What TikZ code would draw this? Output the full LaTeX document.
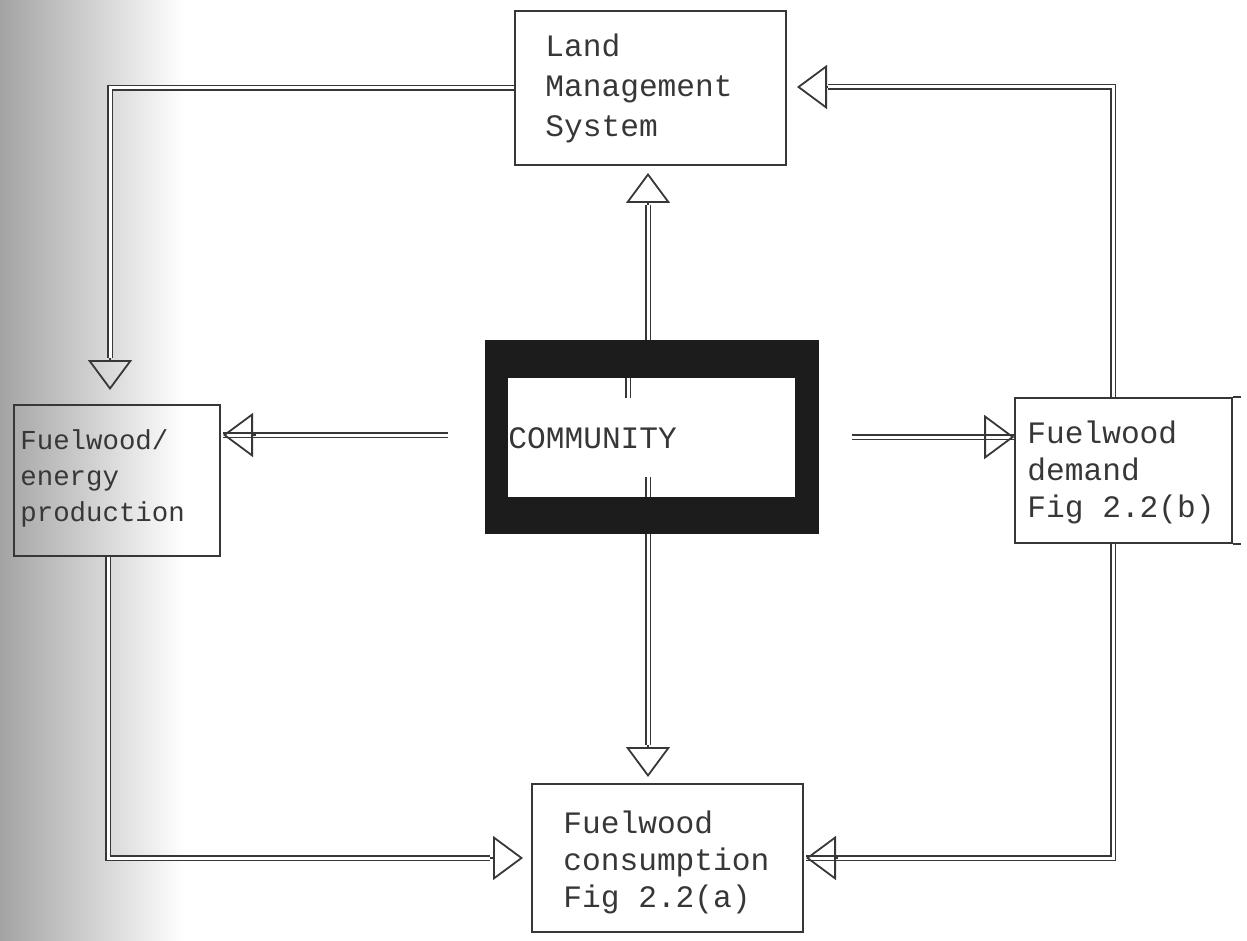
\documentclass[tikz,border=0pt]{standalone}
\usepackage{fontspec}
\newfontfamily\cour{Liberation Mono}
\usetikzlibrary{arrows.meta}
\definecolor{ink}{RGB}{55,55,55}
\definecolor{band}{RGB}{28,28,28}
\begin{document}
\begin{tikzpicture}[x=0.5pt,y=-0.5pt,
  box/.style={draw=ink,line width=0.8pt,inner sep=0pt},
  txt/.style={inner sep=0pt,anchor=west,align=left,text=ink},
  big/.style={font=\cour\fontsize{15.6}{19.5}\selectfont},
  conn/.style={draw=ink,line width=0.8pt,double=white,double distance=1.5pt,line join=miter},
  tipst/.style={draw=ink,line width=0.9pt,-{Triangle[open,length=15pt,width=22pt]}}]
\useasboundingbox (0,0) rectangle (1247,941);
\shade[left color=black!36,right color=white] (0,0) rectangle (185,941);

% boxes
\node[box,minimum width=135.5pt,minimum height=77pt] (land) at (650.5,88) {};
\node[txt,font=\cour\fontsize{15.6}{20}\selectfont] (landt) at (545,88) {Land\\Management\\System};

\node[box,minimum width=103pt,minimum height=75.5pt] (prod) at (117,480.5) {};
\node[txt,font=\cour\fontsize{13.7}{18}\selectfont] (prodt) at (20,478) {Fuelwood/\\energy\\production};

\node[box,minimum width=108.5pt,minimum height=72.5pt] (dem) at (1123.5,470.5) {};
\node[txt,font=\cour\fontsize{15.6}{18.5}\selectfont] (demt) at (1027,472) {Fuelwood\\demand\\Fig 2.2(b)};
\draw[ink,line width=0.8pt] (dem.north east) -- ++(8,0) (dem.south east) -- ++(8,0);

\node[box,minimum width=135.5pt,minimum height=74pt] (cons) at (667.5,858) {};
\node[txt,font=\cour\fontsize{15.6}{18.5}\selectfont] (const) at (563,862) {Fuelwood\\consumption\\Fig 2.2(a)};

% community
\node[fill=band,draw=band,line width=0.5pt,minimum width=166.5pt,minimum height=96.5pt,inner sep=0pt] (comm) at (651.5,436.5) {};
\fill[white] (508,378) rectangle (795,497);
\node[txt,big] (commt) at (508,438) {COMMUNITY};
\draw[conn] (628,378) -- (628,398);
\draw[conn] (648,477) -- (648,497);

% coordinates
\coordinate (c1) at (110,88);
\coordinate (a1b) at (110,358);
\coordinate (a1t) at (110,390);
\coordinate (a2b) at (648,205);
\coordinate (a2t) at (648,173);
\coordinate (s3) at (448,435);
\coordinate (a3b) at (256,435);
\coordinate (a3t) at (223,435);
\coordinate (s4) at (852,437);
\coordinate (a4b) at (985,437);
\coordinate (c6) at (1113,87);
\coordinate (a6b) at (828,87);
\coordinate (a6t) at (797,87);
\coordinate (a5b) at (648,745);
\coordinate (a5t) at (648,777);
\coordinate (c7) at (108,858);
\coordinate (a7b) at (490,858);
\coordinate (a7t) at (523,858);
\coordinate (c8) at (1113,858);
\coordinate (a8b) at (838,858);
\coordinate (a8t) at (806,858);

% connectors
\draw[conn] (land.west |- c1) -- (c1) -- (a1b);
\draw[tipst] (a1b) -- (a1t);

\draw[conn] (comm.north -| a2b) -- (a2b);
\draw[tipst] (a2b) -- (a2t);

\draw[conn] (s3) -- (a3t);
\draw[tipst] (a3b) -- (a3t);

\draw[conn] (s4) -- (dem.west |- s4);
\draw[tipst] (a4b) -- (dem.west |- s4);

\draw[conn] (comm.south -| a5b) -- (a5b);
\draw[tipst] (a5b) -- (a5t);

\draw[conn] (dem.north -| c6) -- (c6) -- (a6b);
\draw[tipst] (a6b) -- (a6t);

\draw[conn] (prod.south -| c7) -- (c7) -- (a7b);
\draw[tipst] (a7b) -- (a7t);

\draw[conn] (dem.south -| c8) -- (c8) -- (a8t);
\draw[tipst] (a8b) -- (a8t);
\end{tikzpicture}
\end{document}
